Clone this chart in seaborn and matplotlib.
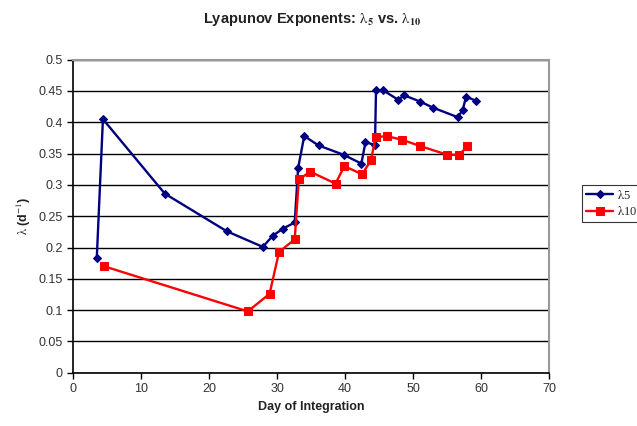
import matplotlib
matplotlib.use("Agg")
import matplotlib.pyplot as plt
import seaborn as sns
import pandas as pd

day5 = [3.5, 4.4, 13.5, 22.6, 27.9, 29.4, 30.85, 32.6, 33.1, 34.0, 36.1, 39.8, 42.4, 43.0, 44.4,
        44.55, 45.6, 47.8, 48.7, 51.05, 53.0, 56.6, 57.3, 57.8, 59.3]
lam5 = [0.184, 0.405, 0.286, 0.226, 0.201, 0.219, 0.230, 0.240, 0.327, 0.378, 0.363, 0.348, 0.334, 0.368, 0.364,
        0.451, 0.451, 0.436, 0.443, 0.433, 0.423, 0.408, 0.420, 0.441, 0.434]

day10 = [4.58, 25.7, 28.9, 30.3, 32.6, 33.2, 34.9, 38.6, 39.9, 42.5, 43.8, 44.5, 46.1, 48.4, 51.05,
         55.05, 56.8, 58.0]
lam10 = [0.170, 0.098, 0.126, 0.193, 0.213, 0.309, 0.321, 0.302, 0.330, 0.317, 0.339, 0.376, 0.378, 0.372, 0.362,
         0.348, 0.348, 0.362]

sns.set_theme(style="white")
plt.rcParams['font.family'] = ['Liberation Sans', 'DejaVu Sans']
plt.rcParams['mathtext.fontset'] = 'stix'

fig = plt.figure(figsize=(6.37, 4.26), dpi=100)
ax = fig.add_axes([0.1146, 0.125, 0.862 - 0.1146, 0.860 - 0.125])

df5 = pd.DataFrame({"day": day5, "lam": lam5})
df10 = pd.DataFrame({"day": day10, "lam": lam10})

sns.lineplot(data=df5, x="day", y="lam", sort=False, ax=ax, color="#000080", marker="D",
             markersize=4, markeredgecolor="#000080", linewidth=1.7, label=r"$\mathrm{\lambda}$5")
sns.lineplot(data=df10, x="day", y="lam", sort=False, ax=ax, color="#FF0000", marker="s",
             markersize=5.5, markeredgecolor="#FF0000", linewidth=1.7, label=r"$\mathrm{\lambda}$10")

ax.set_xlim(0, 70)
ax.set_ylim(0, 0.5)
ax.set_xticks(range(0, 71, 10))
ax.set_yticks([i * 0.05 for i in range(11)])
ax.set_yticklabels(["0", "0.05", "0.1", "0.15", "0.2", "0.25", "0.3", "0.35", "0.4", "0.45", "0.5"])
ax.yaxis.grid(True, color="black", linewidth=1.0)
ax.xaxis.grid(False)
ax.set_axisbelow(True)

ax.tick_params(axis="both", which="both", direction="out", length=4, width=1, colors="black",
               labelsize=9, labelcolor="#333333", left=True, bottom=True)
for s in ["left", "bottom"]:
    ax.spines[s].set_color("black")
    ax.spines[s].set_linewidth(1.2)
for s in ["top", "right"]:
    ax.spines[s].set_color("#999999")
    ax.spines[s].set_linewidth(1.5)

ax.set_xlabel("Day of Integration", fontsize=9, fontweight="bold", color="#222222")
ax.set_ylabel(r"$\mathrm{\lambda}$ (d$^{-1}$)", fontsize=9, fontweight="bold", color="#222222")
fig.suptitle(r"Lyapunov Exponents: $\mathrm{\lambda}_\mathbf{5}$ vs. $\mathrm{\lambda}_\mathbf{10}$", x=0.49, y=0.975,
             fontsize=10.5, fontweight="bold", color="#222222")

leg = ax.legend(loc="upper left", bbox_to_anchor=(582 / 637, 1 - 185 / 426),
                bbox_transform=fig.transFigure, frameon=True, fancybox=False,
                edgecolor="black", fontsize=9, handlelength=2.2, borderpad=0.3,
                labelspacing=0.3, handletextpad=0.3, borderaxespad=0)
leg.get_frame().set_linewidth(0.8)
for t in leg.get_texts():
    t.set_family(["Liberation Serif", "DejaVu Serif"])

fig.savefig("out.png", dpi=100)
